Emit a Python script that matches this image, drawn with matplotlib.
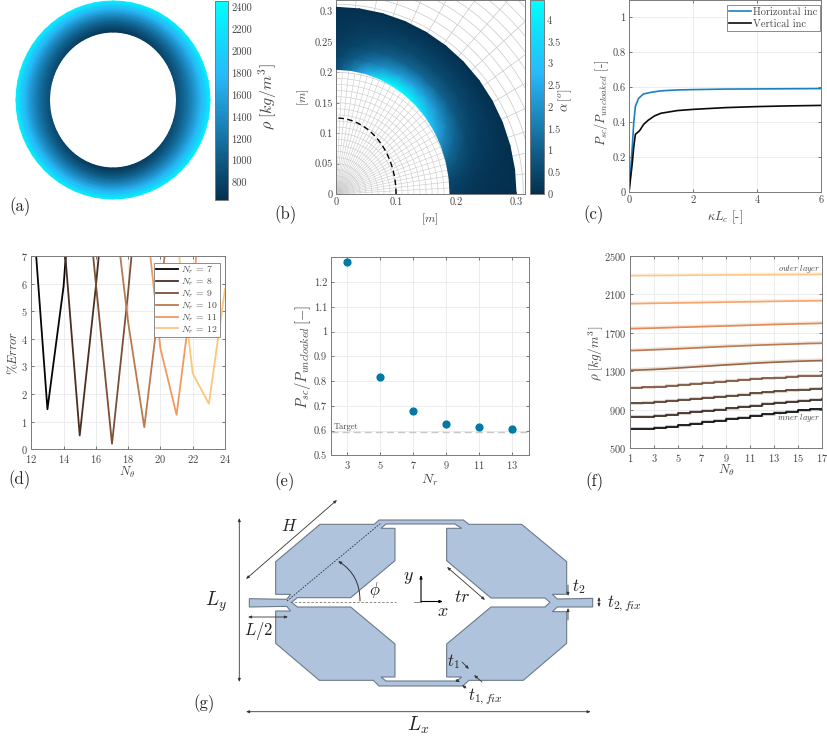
import numpy as np
import matplotlib
matplotlib.use('Agg')
import matplotlib.pyplot as plt
from matplotlib.colors import LinearSegmentedColormap, Normalize
from matplotlib.cm import ScalarMappable
from matplotlib.path import Path
from matplotlib.patches import PathPatch

plt.rcParams['font.family'] = ['cmr10', 'DejaVu Serif']
plt.rcParams['mathtext.fontset'] = 'cm'
plt.rcParams['axes.formatter.use_mathtext'] = True
plt.rcParams['axes.unicode_minus'] = False
plt.rcParams['font.size'] = 7.5

W, H = 828, 740
GREY = '#454545'
SPINE = '#7a7a7a'
GRID = '#ececec'

# panel (f): density per layer, inner to outer, over N_theta = 1..17
N_THETA = list(range(1, 18))
RHO = [
    [701, 703, 712, 721, 738, 751, 771, 784, 802, 819, 838, 852, 871, 882, 895, 905, 912],
    [826, 830, 840, 851, 862, 875, 888, 902, 915, 930, 945, 958, 972, 985, 995, 1005, 1013],
    [968, 972, 980, 990, 1000, 1010, 1022, 1034, 1046, 1058, 1070, 1082, 1092, 1102, 1110, 1118, 1124],
    [1131, 1134, 1142, 1150, 1160, 1170, 1180, 1190, 1200, 1210, 1220, 1228, 1236, 1244, 1250, 1255, 1259],
    [1311, 1315, 1320, 1327, 1335, 1343, 1351, 1359, 1367, 1374, 1382, 1389, 1395, 1400, 1405, 1409, 1412],
    [1516, 1520, 1525, 1530, 1535, 1541, 1547, 1553, 1559, 1564, 1569, 1574, 1578, 1582, 1586, 1590, 1592],
    [1744, 1747, 1750, 1754, 1758, 1761, 1765, 1769, 1772, 1776, 1780, 1784, 1788, 1791, 1794, 1797, 1800],
    [2004, 2006, 2008, 2010, 2012, 2014, 2016, 2018, 2020, 2022, 2024, 2026, 2028, 2030, 2032, 2034, 2035],
    [2295, 2296, 2297, 2298, 2299, 2300, 2301, 2302, 2303, 2304, 2305, 2305, 2306, 2307, 2308, 2308, 2309],
]
LAYER_COLORS = ['#050505', '#35231a', '#553726', '#7a4e34', '#9c6542', '#bd7a4f', '#e58a55', '#f6a56c', '#fdc886']

# panel (b): alpha in the shell, inner to outer, theta = 0..90 deg in 7.5 deg steps
ALPHA = [
    [0.30, 0.55, 1.10, 1.80, 2.60, 3.30, 4.00, 4.40, 4.46, 3.90, 2.70, 1.50, 0.60],
    [0.20, 0.40, 0.70, 1.10, 1.60, 2.00, 2.30, 2.40, 2.25, 1.95, 1.40, 0.85, 0.40],
    [0.10, 0.20, 0.35, 0.55, 0.80, 1.00, 1.10, 1.15, 1.10, 0.95, 0.70, 0.45, 0.25],
    [0.05, 0.10, 0.20, 0.30, 0.40, 0.50, 0.55, 0.55, 0.55, 0.50, 0.40, 0.25, 0.15],
    [0.03, 0.05, 0.10, 0.15, 0.20, 0.22, 0.25, 0.25, 0.25, 0.22, 0.20, 0.15, 0.10],
    [0.00, 0.00, 0.00, 0.00, 0.00, 0.00, 0.00, 0.00, 0.00, 0.00, 0.00, 0.00, 0.00],
]

# panel (c)
KL_H = [0, 0.05, 0.1, 0.15, 0.2, 0.3, 0.45, 0.7, 1, 1.5, 2, 3, 4, 5, 6.1]
P_H = [0, 0.12, 0.25, 0.40, 0.49, 0.535, 0.56, 0.57, 0.578, 0.583, 0.585, 0.588, 0.589, 0.59, 0.591]
KL_V = [0, 0.05, 0.1, 0.15, 0.2, 0.3, 0.35, 0.45, 0.6, 0.8, 1, 1.5, 2, 3, 4, 5, 6.1]
P_V = [0, 0.08, 0.16, 0.26, 0.33, 0.345, 0.355, 0.385, 0.41, 0.435, 0.45, 0.465, 0.472, 0.482, 0.488, 0.492, 0.495]

# panel (d)
NR_LABELS = [7, 8, 9, 10, 11, 12]
ERR_X = [
    [12, 13, 14, 15],
    [14, 15, 16, 17],
    [15, 16, 17, 18, 19],
    [17, 18, 19, 20, 21],
    [19, 20, 21, 22, 23],
    [21, 22, 23, 24],
]
ERR_Y = [
    [9.4, 1.45, 5.9, 14],
    [7.8, 0.5, 5.9, 12],
    [12, 6.0, 0.2, 5.7, 12],
    [9.5, 4.6, 0.8, 5.6, 11],
    [9, 3.65, 1.25, 5.85, 11],
    [7.8, 2.75, 1.65, 5.8],
]
ERR_COLORS = ['#050505', '#4a2f20', '#7d5035', '#b87a50', '#f09a60', '#fdc67a']

# panel (e)
NR = [3, 5, 7, 9, 11, 13]
P_NR = [1.28, 0.815, 0.68, 0.628, 0.616, 0.608]
TARGET = 0.593

# panel (g): outline of the structure, in pixels of the page
OUTLINE_L = [(178, 281), (290, 283), (302, 268), (257, 268), (257, 170), (390, 58), (553, 58), (567, 45)]
OUTLINE_R = [(130, 45), (147, 58), (305, 58), (440, 170), (440, 268), (397, 268), (412, 282), (518, 280),
             (518, 306), (412, 306), (397, 320), (440, 320), (440, 415), (310, 526), (147, 526), (128, 543)]
OUTLINE_L2 = [(567, 543), (550, 526), (388, 526), (257, 415), (257, 318), (302, 318), (290, 304), (178, 306)]
HOLE_L = [(305, 292), (322, 278), (482, 278), (615, 167), (615, 70), (573, 70), (588, 57)]
HOLE_R = [(105, 57), (125, 70), (80, 70), (80, 167), (213, 279), (375, 279), (390, 292), (375, 306),
          (213, 306), (80, 417), (80, 516), (125, 516), (110, 528)]
HOLE_L2 = [(588, 528), (573, 516), (615, 516), (615, 417), (482, 306), (322, 306)]

cmap = LinearSegmentedColormap.from_list('cloak', [
    (0.00, '#04304f'), (0.20, '#0f5a84'), (0.42, '#1d8cc4'),
    (0.62, '#28b8f8'), (0.80, '#14d8fb'), (1.00, '#00ffff')])


def add_ax(left, top, right, bottom):
    ax = fig.add_axes([left / W, 1 - bottom / H, (right - left) / W, (bottom - top) / H])
    for s in ax.spines.values():
        s.set_color(SPINE)
        s.set_linewidth(0.7)
    ax.tick_params(direction='in', length=2, width=0.5, colors=GREY, pad=2.5, labelsize=7.5, top=True, right=True)
    ax.set_axisbelow(True)
    return ax


def add_cbar(left, top, right, bottom, vmin, vmax, ticks, labels):
    cax = add_ax(left, top, right, bottom)
    cb = fig.colorbar(ScalarMappable(Normalize(vmin, vmax), cmap), cax=cax)
    cb.set_ticks(ticks)
    cb.set_ticklabels(labels)
    cb.ax.tick_params(direction='in', length=2, width=0.5, colors=GREY, pad=2.5, labelsize=7.5)
    cb.outline.set_edgecolor(SPINE)
    cb.outline.set_linewidth(0.7)
    return cax


fig = plt.figure(figsize=(W / 100, H / 100), dpi=100)

# full page axes in pixels for the ring, the sketch and free text
page = fig.add_axes([0, 0, 1, 1])
page.set_xlim(0, W)
page.set_ylim(H, 0)
page.axis('off')

# (a) ring, built from the density layers of panel (f)
rho = np.array(RHO, dtype=float)
quarter = rho[:, ::-1]  # first N_theta sits on the vertical axis
rho_ring = np.hstack([quarter, quarter[:, ::-1][:, 1:], quarter[:, 1:], quarter[:, ::-1][:, 1:]])
th = np.linspace(0, 2 * np.pi, rho_ring.shape[1])
s = np.linspace(0, 1, rho_ring.shape[0])[:, None]
rx = 63.5 + s * (97 - 63.5)
ry = 68 + s * (99 - 68)
page.pcolormesh(113 + rx * np.cos(th), 100 + ry * np.sin(th), rho_ring, shading='gouraud',
                cmap=cmap, norm=Normalize(640, 2460), rasterized=True)
add_cbar(215, 1, 228, 200, 640, 2460, list(range(800, 2401, 200)), [str(v) for v in range(800, 2401, 200)])

# (b)
ax = add_ax(336, 0, 524.5, 194)
ax.set_xlim(0, 0.314)
ax.set_ylim(0, 0.319)
for deg in np.arange(0, 90.1, 3):
    ax.plot([0, 0.2 * np.cos(np.radians(deg))], [0, 0.2 * np.sin(np.radians(deg))], color='#c9c9c9', lw=0.4)
for deg in np.arange(0, 90.1, 6):
    ax.plot([0.2 * np.cos(np.radians(deg)), 0.5 * np.cos(np.radians(deg))],
            [0.2 * np.sin(np.radians(deg)), 0.5 * np.sin(np.radians(deg))], color='#c9c9c9', lw=0.5)
tt = np.linspace(0, np.pi / 2, 120)
for r in np.arange(0.01, 0.2, 0.01):
    ax.plot(r * np.cos(tt), r * np.sin(tt), color='#c9c9c9', lw=0.4)
for r in np.arange(0.2, 0.46, 0.016):
    ax.plot(r * np.cos(tt), r * np.sin(tt), color='#c9c9c9', lw=0.5)
alpha = np.array(ALPHA)
th_b = np.radians(np.arange(0, 90.1, 7.5))
s_b = np.linspace(0, 1, alpha.shape[0])[:, None]
rx_b = 0.19 + s_b * (0.30 - 0.19)
ry_b = 0.205 + s_b * (0.307 - 0.205)
ax.pcolormesh(rx_b * np.cos(th_b), ry_b * np.sin(th_b), alpha, shading='gouraud',
              cmap=cmap, norm=Normalize(0, 4.46), zorder=3, rasterized=True)
ax.plot(0.1 * np.cos(tt), 0.125 * np.sin(tt), color='k', lw=1, ls=(0, (4, 2.5)), zorder=4)
ax.set_xticks([0, 0.1, 0.2, 0.3], ['0', '0.1', '0.2', '0.3'])
ax.set_yticks([0, 0.05, 0.1, 0.15, 0.2, 0.25, 0.3], ['0', '0.05', '0.1', '0.15', '0.2', '0.25', '0.3'])
ax.tick_params(top=False, right=False)
page.text(380, 179, r'$\partial\mathbf{\Omega}$', fontsize=12, ha='center', va='center', color='k', zorder=10)
fig.text(430 / W, 1 - 219 / H, r'$[m]$', ha='center', va='center', fontsize=8.5, color=GREY)
fig.text(303 / W, 1 - 97 / H, r'$[m]$', ha='center', va='center', fontsize=8.5, color=GREY, rotation=90)
b_ticks = [0, 0.5, 1, 1.5, 2, 2.5, 3, 3.5, 4]
add_cbar(530, 0, 543.7, 194, 0, 4.46, b_ticks, ['0', '0.5', '1', '1.5', '2', '2.5', '3', '3.5', '4'])

# (c)
ax = add_ax(629, 0, 821, 192)
ax.plot(KL_H, P_H, color='#1a80c0', lw=1.2, label='Horizontal inc')
ax.plot(KL_V, P_V, color='#0a0a0a', lw=1.2, label='Vertical inc')
ax.set_xlim(0, 6)
ax.set_ylim(0, 1.097)
ax.set_xticks([0, 2, 4, 6], ['0', '2', '4', '6'])
ax.set_yticks([0, 0.2, 0.4, 0.6, 0.8, 1], ['0', '0.2', '0.4', '0.6', '0.8', '1'])
ax.grid(color=GRID, lw=0.7)
leg = ax.legend(loc='upper left', bbox_to_anchor=((726.7 - 629) / 192, 1 - 5 / 192), borderaxespad=0,
                fontsize=7.5, frameon=True, fancybox=False, framealpha=1, edgecolor=SPINE,
                labelspacing=0.2, handlelength=2.1, handletextpad=0.15, borderpad=0.25, labelcolor=GREY)
leg.get_frame().set_linewidth(0.6)
fig.text(725 / W, 1 - 217 / H, r'$\kappa L_c$ [-]', ha='center', va='center', fontsize=9, color=GREY)
fig.text(602 / W, 1 - 103 / H, r'$P_{sc}/P_{uncloaked}$ [-]', ha='center', va='center', fontsize=9,
         color=GREY, rotation=90)

# (d)
ax = add_ax(31.3, 256, 225, 449.3)
for x, y, c, n in zip(ERR_X, ERR_Y, ERR_COLORS, NR_LABELS):
    ax.plot(x, y, color=c, lw=1.3, label=r'$N_r$ = %d' % n)
ax.set_xlim(12, 24)
ax.set_ylim(0, 7)
ax.set_xticks(range(12, 25, 2))
ax.set_yticks(range(0, 8))
ax.grid(color=GRID, lw=0.7)
leg = ax.legend(loc='upper left', bbox_to_anchor=((154 - 31.3) / 193.7, 1 - 6.7 / 193.3), borderaxespad=0,
                fontsize=7, frameon=True, fancybox=False, framealpha=1, edgecolor=SPINE,
                labelspacing=0.02, handlelength=2.3, handletextpad=0.25, borderpad=0.2, labelcolor=GREY)
leg.get_frame().set_linewidth(0.6)
fig.text(127 / W, 1 - 472 / H, r'$N_\theta$', ha='center', va='center', fontsize=9, color=GREY)
fig.text(13 / W, 1 - 353 / H, r'$\%Error$', ha='center', va='center', fontsize=9, color=GREY, rotation=90)

# (e)
ax = add_ax(330.7, 257.3, 528.7, 455.3)
ax.plot([2, 14], [TARGET, TARGET], color='#c8c8c8', lw=1, ls=(0, (5, 3)))
ax.scatter(NR, P_NR, s=24, color='#0079a5', zorder=3)
ax.text(2.2, 0.615, 'Target', fontsize=6, color=GREY, va='center')
ax.set_xlim(2, 14)
ax.set_ylim(0.5, 1.3)
ax.set_xticks(NR)
ax.set_yticks([0.5, 0.6, 0.7, 0.8, 0.9, 1, 1.1, 1.2], ['0.5', '0.6', '0.7', '0.8', '0.9', '1', '1.1', '1.2'])
ax.grid(color=GRID, lw=0.7)
fig.text(430 / W, 1 - 480 / H, r'$N_r$', ha='center', va='center', fontsize=10, color=GREY)
fig.text(303 / W, 1 - 357 / H, r'$P_{sc}/P_{uncloaked}\,[-]$', ha='center', va='center', fontsize=10.5,
         color=GREY, rotation=90)

# (f)
ax = add_ax(630, 256, 821.7, 448.3)
for i, (row, c) in enumerate(zip(RHO, LAYER_COLORS)):
    style = 'steps-post' if i < 4 else 'default'
    ax.plot(N_THETA, np.array(row) + 8, color=c, lw=2.2, alpha=0.2, drawstyle=style)
    ax.plot(N_THETA, row, color=c, lw=1.2, drawstyle=style)
ax.text(16.9, 2365, r'$\mathit{outer\ layer}$', fontsize=6, color=GREY, ha='right', va='center')
ax.text(16.9, 819, r'$\mathit{inner\ layer}$', fontsize=6, color=GREY, ha='right', va='center')
ax.set_xlim(1, 17)
ax.set_ylim(500, 2500)
ax.set_xticks(range(1, 18, 2))
ax.set_yticks(range(500, 2501, 400))
ax.grid(color=GRID, lw=0.7)
fig.text(726 / W, 1 - 470 / H, r'$N_\theta$', ha='center', va='center', fontsize=9.5, color=GREY)
fig.text(596 / W, 1 - 353 / H, r'$\rho\;[kg/m^3]$', ha='center', va='center', fontsize=9.5, color=GREY, rotation=90)

# colour bar titles
fig.text(268 / W, 1 - 97 / H, r'$\rho\;[kg/m^3]$', ha='center', va='center', fontsize=11.5, color=GREY, rotation=90)
fig.text(565 / W, 1 - 100 / H, r'$\alpha\,[^o]$', ha='center', va='center', fontsize=9.5, color=GREY, rotation=90)

# panel letters
for letter, x, y in [('(a)', 20, 207), ('(b)', 286, 215), ('(c)', 594, 215), ('(d)', 20, 480),
                     ('(e)', 285, 482), ('(f)', 594, 482), ('(g)', 204, 704)]:
    fig.text(x / W, 1 - y / H, letter, ha='center', va='center', fontsize=12, color='#222222')


# (g) the unit cell sketch, outline points are given per half of the page
def left_side(pts):
    return [(190 + x / 3, 505 + y / 3) for x, y in pts]


def right_side(pts):
    return [(420 + x / 3, 505 + y / 3) for x, y in pts]


outer = left_side(OUTLINE_L) + right_side(OUTLINE_R) + left_side(OUTLINE_L2)
hole = (left_side(HOLE_L) + right_side(HOLE_R) + left_side(HOLE_L2))[::-1]
verts = outer + [outer[0]] + hole + [hole[0]]
codes = ([Path.MOVETO] + [Path.LINETO] * (len(outer) - 1) + [Path.CLOSEPOLY]
         + [Path.MOVETO] + [Path.LINETO] * (len(hole) - 1) + [Path.CLOSEPOLY])
page.add_patch(PathPatch(Path(verts, codes), facecolor='#afc3dd', edgecolor='#6c7a8a', lw=0.8))

page.plot([287, 381], [601, 523], color='#333333', lw=0.6, ls=(0, (2, 1.5)))
page.plot([290, 396], [601.5, 601.5], color='#777777', lw=0.6, ls=(0, (3, 2)))
page.plot([414, 421], [601.5, 601.5], color='#777777', lw=0.6)


def arrow(p0, p1, style='<|-|>', lw=0.6, col='#333333', conn=None):
    page.annotate('', xy=p1, xytext=p0,
                  arrowprops=dict(arrowstyle=style + ',head_length=0.25,head_width=0.1', lw=lw, color=col,
                                  shrinkA=0, shrinkB=0, connectionstyle=conn))


arrow((239.3, 518), (239.3, 682))
arrow((246, 711.7), (590.7, 711.7))
arrow((246, 579), (337, 500))
arrow((248, 617), (288, 617))
arrow((447, 567), (485, 600))
arrow((360, 601), (338, 561), style='-|>', conn='arc3,rad=0.28', lw=0.7)
arrow((421, 601.5), (421, 575), style='-|>', lw=0.8, col='k')
arrow((421, 601.5), (443, 601.5), style='-|>', lw=0.8, col='k')
arrow((568, 585), (568, 596), style='-|>')
arrow((568, 620), (568, 608), style='-|>')
arrow((599, 597), (599, 607))
arrow((462, 662), (469, 669), style='-|>')
arrow((482, 682), (474, 675), style='-|>')
arrow((456, 680), (460, 682), style='-|>')
arrow((466, 688), (462, 685), style='-|>')

for txt, x, y, fs in [(r'$H$', 289, 526, 12), (r'$L_y$', 216, 602, 14), (r'$L/2$', 259, 631, 12),
                      (r'$\phi$', 375, 590, 12), (r'$y$', 408, 578, 13), (r'$x$', 443, 611, 13),
                      (r'$tr$', 462, 597, 13), (r'$t_2$', 579, 587, 12), (r'$t_{2,fix}$', 624, 604, 12),
                      (r'$t_1$', 453, 662, 12), (r'$t_{1,fix}$', 485, 697, 12), (r'$L_x$', 418, 725, 14)]:
    page.text(x, y, txt, ha='center', va='center', fontsize=fs, color='#222222')

fig.savefig('out.png', dpi=100)
